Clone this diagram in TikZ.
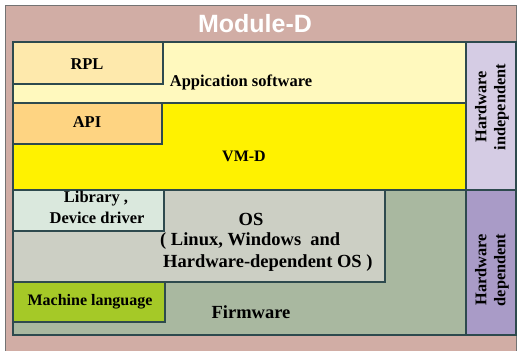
\documentclass[tikz,border=0pt]{standalone}
\usepackage{fontspec}
\setmainfont{Liberation Serif}
\setsansfont{Liberation Sans}
\definecolor{outerpink}{HTML}{D1ADA5}
\definecolor{appyel}{HTML}{FFF9BE}
\definecolor{rplc}{HTML}{FEE9AC}
\definecolor{apic}{HTML}{FED482}
\definecolor{vmd}{HTML}{FFF200}
\definecolor{libc}{HTML}{DAE8DD}
\definecolor{osc}{HTML}{CCCFC4}
\definecolor{fwc}{HTML}{A9B8A0}
\definecolor{mlc}{HTML}{A5C927}
\definecolor{hwi}{HTML}{D5CCE4}
\definecolor{hwd}{HTML}{A99BC7}
\definecolor{edge}{HTML}{2E4A4E}
\begin{document}
\begin{tikzpicture}[x=1pt,y=-1pt,
  layer/.style={draw=edge, line width=1.6pt, anchor=north west, inner sep=0pt},
  lbl/.style={font=\fontsize{16.5}{19}\selectfont\bfseries, inner sep=0pt, align=center},
  biglbl/.style={font=\fontsize{18.5}{22}\selectfont\bfseries, inner sep=0pt, align=center},
  rlbl/.style={font=\fontsize{16.3}{19}\selectfont\bfseries, inner sep=0pt, align=center, rotate=90}]
\useasboundingbox (0,0) rectangle (518,350);
\begin{scope}
\clip (0,0) rectangle (518,350);
\node[draw=black!55, line width=0.8pt, fill=outerpink, anchor=north west, inner sep=0pt,
  minimum width=511pt, minimum height=360pt] (outer) at (5,5) {};
\end{scope}
\node[font=\fontsize{25}{27}\selectfont\sffamily\bfseries, text=white, inner sep=0pt] (title) at (255,24) {Module-D};
% application layer
\node[layer, fill=appyel, minimum width=453pt, minimum height=61pt] (app) at (12,41) {};
\node[layer, fill=rplc, minimum width=150pt, minimum height=42pt] (rpl) at (12,41) {};
% VM-D layer
\node[layer, fill=vmd, minimum width=453pt, minimum height=87pt] (vm) at (12,102) {};
\node[layer, fill=apic, minimum width=149pt, minimum height=41pt] (api) at (12,102) {};
% firmware / OS
\node[layer, fill=fwc, minimum width=453pt, minimum height=145pt] (fw) at (12,189) {};
\node[layer, fill=osc, minimum width=372pt, minimum height=92pt] (os) at (12,189) {};
\node[layer, fill=libc, minimum width=151pt, minimum height=41pt] (lib) at (12,189) {};
\node[layer, fill=mlc, minimum width=152pt, minimum height=40pt] (ml) at (12,281) {};
% right column
\node[layer, fill=hwi, minimum width=50pt, minimum height=148pt] (hwi) at (465,41) {};
\node[layer, fill=hwd, minimum width=50pt, minimum height=145pt] (hwd) at (465,189) {};
% labels
\node[lbl] (trpl) at (87,64) {RPL};
\node[lbl] (tapp) at (241,82) {Appication software};
\node[lbl] (tapi) at (87,122) {API};
\node[lbl, font=\fontsize{16}{19}\selectfont\bfseries] (tvm) at (244,156) {VM-D};
\node[lbl] (tlib1) at (96,199) {Library ,};
\node[lbl] (tlib2) at (97,218) {Device driver};
\node[biglbl] (tos1) at (251,219) {OS};
\node[biglbl, anchor=west] (tos2) at (160,241) {( Linux, Windows\ \ and};
\node[biglbl, anchor=west] (tos3) at (163,263) {Hardware-dependent OS )};
\node[lbl, font=\fontsize{16}{19}\selectfont\bfseries] (tml) at (90,302) {Machine language};
\node[biglbl] (tfw) at (251,312) {Firmware};
\node[rlbl] (thwi) at (492,107) {Hardware\\independent};
\node[rlbl] (thwd) at (492,270) {Hardware\\dependent};
\end{tikzpicture}
\end{document}
